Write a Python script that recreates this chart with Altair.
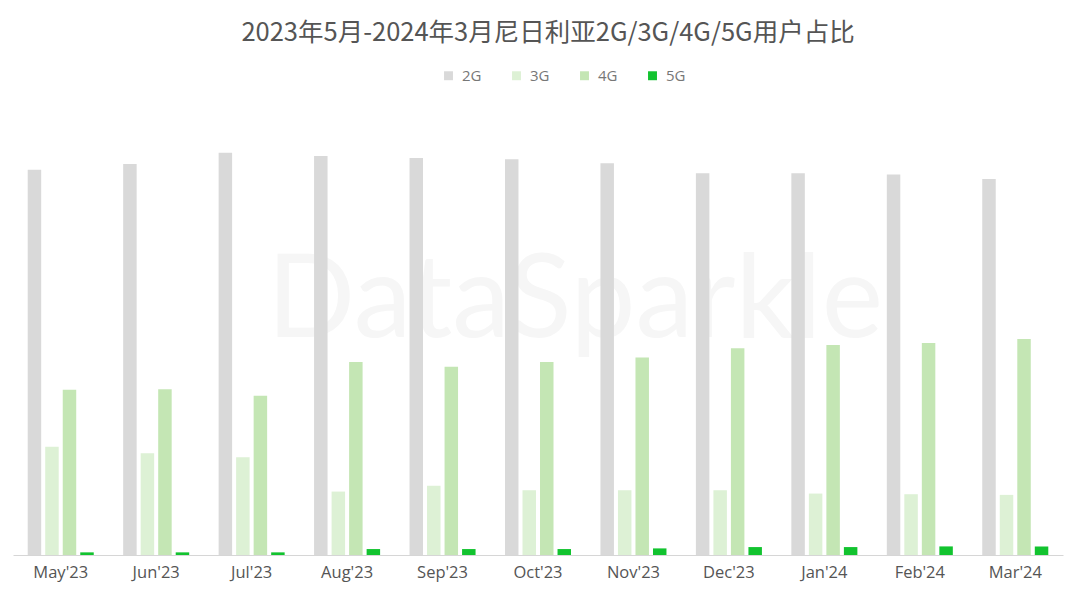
import altair as alt
import pandas as pd

months = ["May'23", "Jun'23", "Jul'23", "Aug'23", "Sep'23", "Oct'23",
          "Nov'23", "Dec'23", "Jan'24", "Feb'24", "Mar'24"]
gens = ["2G", "3G", "4G", "5G"]
share_2g = [58.3, 59.2, 60.9, 60.4, 60.1, 59.9, 59.3, 57.8, 57.8, 57.6, 56.9]
share_3g = [16.4, 15.4, 14.8, 9.6, 10.5, 9.8, 9.8, 9.8, 9.3, 9.2, 9.1]
share_4g = [25.0, 25.1, 24.1, 29.2, 28.5, 29.2, 29.9, 31.3, 31.8, 32.1, 32.7]
share_5g = [0.4, 0.4, 0.4, 0.9, 0.9, 0.9, 1.0, 1.2, 1.2, 1.3, 1.3]
colors = ["#d9d9d9", "#ddf1d5", "#c4e6b4", "#12c32f"]

rows = []
for g, vals in zip(gens, [share_2g, share_3g, share_4g, share_5g]):
    for m, v in zip(months, vals):
        rows.append({"month": m, "gen": g, "share": v})
df = pd.DataFrame(rows)

bars = alt.Chart(df).mark_bar().encode(
    x=alt.X("month:N", sort=months,
            scale=alt.Scale(paddingInner=0, paddingOuter=0),
            axis=alt.Axis(title=None, labelAngle=0, ticks=False,
                          domainColor="#d6d6d6", domainWidth=1,
                          labelFontSize=16.5, labelColor="#555555",
                          labelFont="Open Sans", labelPadding=9)),
    xOffset=alt.XOffset("gen:N", sort=gens,
                        scale=alt.Scale(paddingInner=0.23, paddingOuter=0.84)),
    y=alt.Y("share:Q", scale=alt.Scale(domain=[0, 66.6], nice=False), axis=None),
    color=alt.Color("gen:N", sort=gens,
                    scale=alt.Scale(domain=gens, range=colors),
                    legend=alt.Legend(title=None, orient="none", direction="horizontal",
                                      legendX=428, legendY=-47,
                                      symbolType="square", symbolSize=80,
                                      symbolStrokeWidth=0,
                                      labelFontSize=15, labelColor="#777777",
                                      labelFont="Open Sans", labelOffset=6,
                                      columnPadding=27)),
)

watermark = alt.Chart(pd.DataFrame({"t": ["DataSparkle"]})).mark_text(
    fontSize=116, font="Lato", color="#f6f6f6", align="center", baseline="middle"
).encode(text="t:N", x=alt.value(562), y=alt.value(187))

chart = alt.layer(watermark, bars).properties(
    width=1050, height=440,
    padding={"left": 5, "top": 107, "right": 5, "bottom": 35},
    autosize=alt.AutoSizeParams(type="none"),
    title=alt.TitleParams(
        "2023年5月-2024年3月尼日利亚2G/3G/4G/5G用户占比",
        fontSize=25.5, font="Noto Sans CJK SC", fontWeight="normal",
        color="#555555", anchor="middle", dx=10, offset=22,
    ),
).configure_view(stroke=None)

chart.save("out.html", embed_options={"renderer": "svg", "actions": False})
